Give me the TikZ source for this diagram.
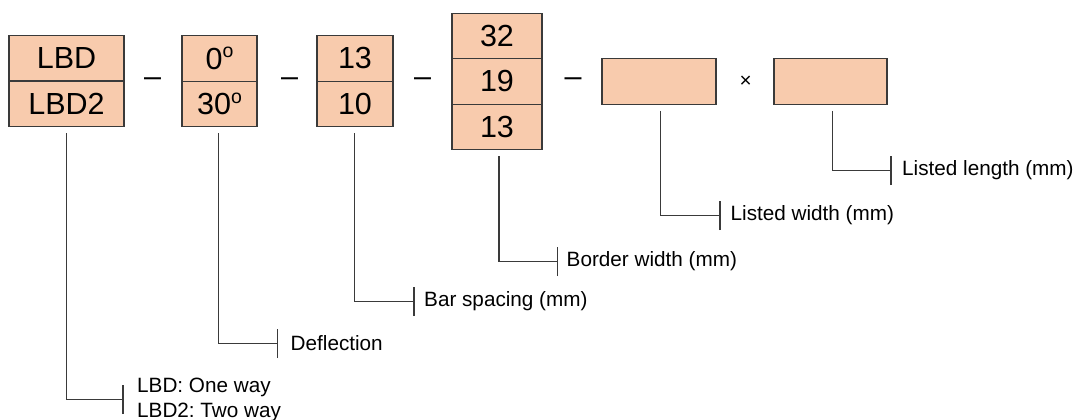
\documentclass[tikz,border=0pt]{standalone}
\usepackage{fontspec}
\setmainfont{Liberation Sans}
\frenchspacing
\definecolor{peach}{HTML}{F8CBAD}
\definecolor{edge}{HTML}{3A3A3A}
\newcommand{\bigtxt}{\fontsize{30.5}{34}\selectfont}
\newcommand{\smalltxt}{\fontsize{20.7}{25}\selectfont}
\newcommand{\ordo}{\raisebox{11.5pt}{\fontsize{19.5}{20}\selectfont o}}
\begin{document}
\begin{tikzpicture}[x=1pt,y=-1pt,
  cell/.style={draw=edge,fill=peach,line width=1.4pt,inner sep=0pt,
    minimum height=45.5pt,font=\bigtxt,text=black},
  sep/.style={inner sep=0pt,font=\bigtxt},
  lead/.style={draw=edge,line width=1.1pt},
  lbl/.style={anchor=west,inner sep=0pt,font=\smalltxt,align=left,text=black}]
\useasboundingbox (0,0) rectangle (1080,420);
% box 1
\node[cell,minimum width=115pt] (b1a) at (66.5,58) {LBD};
\node[cell,minimum width=115pt] (b1b) at (66.5,104) {LBD2};
% box 2
\node[cell,minimum width=75pt] (b2a) at (219.5,58.5) {0\ordo};
\node[cell,minimum width=75pt] (b2b) at (219.5,104) {30\ordo};
% box 3
\node[cell,minimum width=76pt] (b3a) at (355,58.5) {13};
\node[cell,minimum width=76pt] (b3b) at (355,104) {10};
% box 4
\node[cell,minimum width=90pt] (b4a) at (497,36.5) {32};
\node[cell,minimum width=90pt] (b4b) at (497,81.5) {19};
\node[cell,minimum width=90pt] (b4c) at (497,127) {13};
% box 5, 6
\node[cell,minimum width=114pt] (b5) at (659,81.5) {};
\node[cell,minimum width=113pt] (b6) at (830.5,81.5) {};
% separators
\node[sep] (d1) at (152.5,82) {–};
\node[sep] (d2) at (289.5,82) {–};
\node[sep] (d3) at (422.5,82) {–};
\node[sep] (d4) at (573,82) {–};
\node[inner sep=0pt,font=\smalltxt] (x1) at (745.7,81.7) {×};
% tick coordinates
\coordinate (t1) at (123,399.5);
\coordinate (t2) at (277.5,343.5);
\coordinate (t3) at (414,301.5);
\coordinate (t4) at (557.5,261.5);
\coordinate (t5) at (720,215.5);
\coordinate (t6) at (891,170.5);
% leads
\draw[lead] ([yshift=-6pt]b1b.south) |- (t1);
\draw[lead] ([xshift=-1.2pt,yshift=-6pt]b2b.south) |- (t2);
\draw[lead] ([xshift=-0.7pt,yshift=-6pt]b3b.south) |- (t3);
\draw[lead] ([xshift=2pt,yshift=-6pt]b4c.south) |- (t4);
\draw[lead] ([xshift=1.7pt,yshift=-6pt]b5.south) |- (t5);
\draw[lead] ([xshift=2.2pt,yshift=-6pt]b6.south) |- (t6);
% ticks
\foreach \t in {t1,t2,t3,t4,t5,t6}
  \draw[lead] ([yshift=-14.5pt]\t) -- ([yshift=14.5pt]\t);
% labels
\node[lbl] (l1) at ([xshift=14pt]t1) {LBD: One way\\LBD2: Two way};
\node[lbl] (l2) at ([xshift=13pt]t2) {Deflection};
\node[lbl] (l3) at ([xshift=10pt]t3) {Bar spacing (mm)};
\node[lbl] (l4) at ([xshift=9pt]t4) {Border width (mm)};
\node[lbl] (l5) at ([xshift=10.5pt]t5) {Listed width (mm)};
\node[lbl] (l6) at ([xshift=11pt]t6) {Listed length (mm)};
\end{tikzpicture}
\end{document}
